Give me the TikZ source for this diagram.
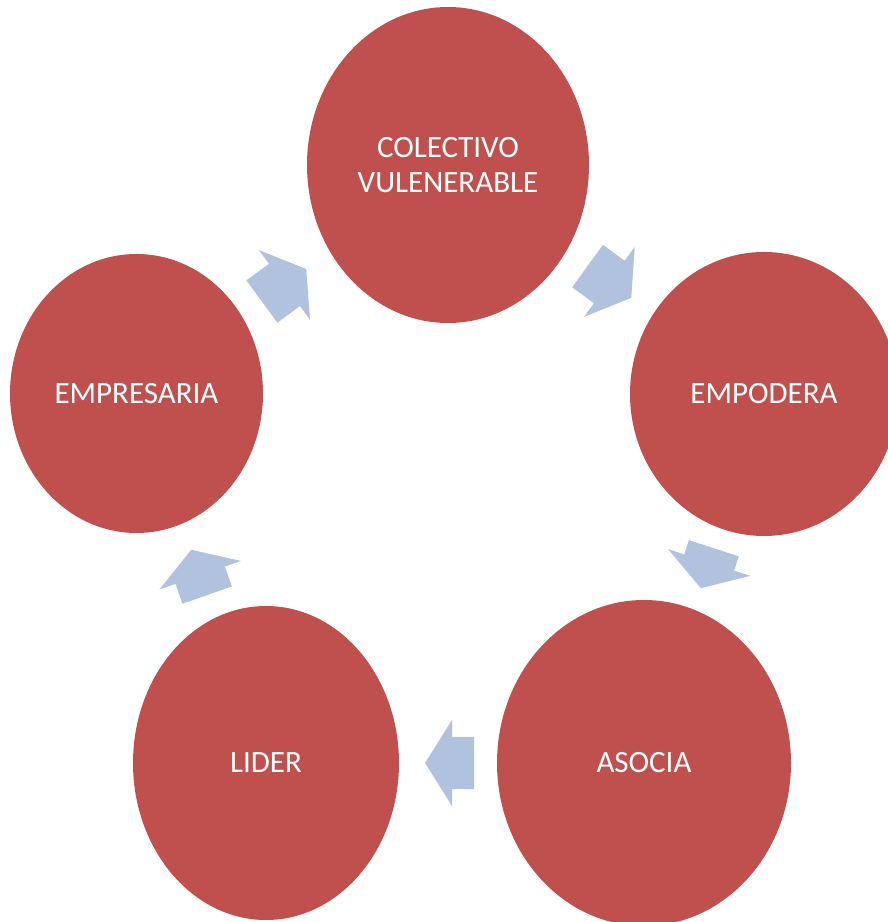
\documentclass[tikz,border=0pt]{standalone}
\usepackage{fontspec}
\setmainfont{Carlito}
\usetikzlibrary{shapes.geometric,shapes.arrows}
\definecolor{rojo}{HTML}{C0504D}
\definecolor{azul}{HTML}{B1C2DE}
\tikzset{
  flecha/.style={single arrow, sloped, allow upside down, anchor=tail, fill=azul, draw=none, inner xsep=0pt, inner ysep=26pt,
    minimum height=52pt, minimum width=86pt, single arrow head extend=17pt, single arrow tip angle=116}
}

\begin{document}
\begin{tikzpicture}[x=1pt,y=1pt]
    \useasboundingbox (0,0) rectangle (888,922);
    \begin{scope}[every node/.style={ellipse, fill=rojo, text=white, inner sep=0pt, align=center, font=\fontsize{31}{35}\selectfont}]
        \node (col) [minimum width=282pt, minimum height=316pt] at (448, 757) {COLECTIVO\\VULENERABLE};
        \node (emp) [minimum width=268pt, minimum height=284pt] at (764, 528) {EMPODERA};
        \node (aso) [minimum width=294pt, minimum height=326pt] at (644, 159) {ASOCIA};
        \node (lid) [minimum width=266pt, minimum height=314pt] at (266, 159) {LIDER};
        \node (ems) [minimum width=253pt, minimum height=279pt] at (136.5, 528.5) {EMPRESARIA};
    \end{scope}
    \path (ems.center) edge[draw=none] node[flecha, pos=.402, minimum height=55pt] {} (col.center);
    \path (col.center) edge[draw=none] node[flecha, pos=.441, minimum height=54pt] {} (emp.center);
    \path (emp.center) edge[draw=none] node[flecha, pos=.4175, minimum height=42pt] {} (aso.center);
    \path (aso.center) edge[draw=none] node[flecha, pos=.449, minimum height=49pt] {} (lid.center);
    \path (lid.center) edge[draw=none] node[flecha, pos=.454, minimum height=48pt] {} (ems.center);
\end{tikzpicture}
\end{document}
